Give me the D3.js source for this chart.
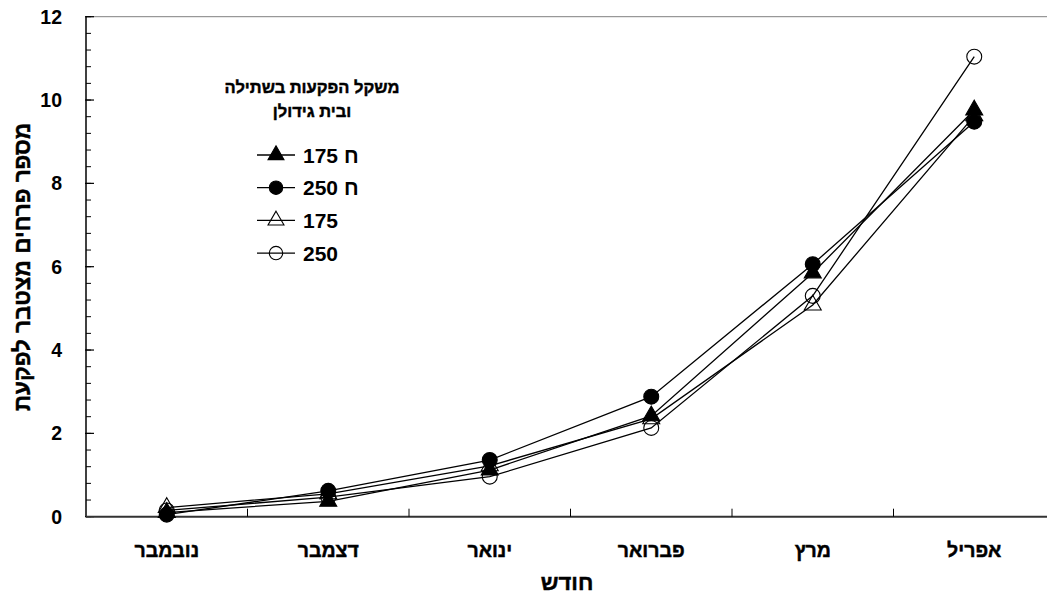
<!DOCTYPE html>
<html>
<head>
<meta charset="utf-8">
<style>
body { margin: 0; background: #fff; }
svg text { font-family: "Liberation Sans", Arial, sans-serif; font-weight: bold; fill: #000; }
svg text.heb { stroke: #000; stroke-width: 0.45px; }
.axis .domain { display: none; }
</style>
</head>
<body>
<svg width="1047" height="597"></svg>
<script src="https://d3js.org/d3.v7.min.js"></script>
<script>

var months = ["נובמבר", "דצמבר", "ינואר", "פברואר", "מרץ", "אפריל"];

var hotTri = [0.10, 0.37, 1.12, 2.42, 5.85, 9.76];   // ח 175
var hotCirc = [0.05, 0.62, 1.36, 2.88, 6.06, 9.48];  // ח 250
var openTri = [0.22, 0.55, 1.22, 2.35, 5.08, 9.62];  // 175
var openCirc = [0.15, 0.47, 0.96, 2.13, 5.30, 11.04]; // 250

var yTicks = [0, 2, 4, 6, 8, 10, 12];
var legendTitle = ["משקל הפקעות בשתילה", "ובית גידולן"];

var series = [
  {label: "ח 175", values: hotTri, shape: d3.symbolTriangle, filled: true},
  {label: "ח 250", values: hotCirc, shape: d3.symbolCircle, filled: true},
  {label: "175", values: openTri, shape: d3.symbolTriangle, filled: false},
  {label: "250", values: openCirc, shape: d3.symbolCircle, filled: false}
];

var svg = d3.select("svg"),
    plotL = 86, plotR = 1055, plotT = 16.7, plotB = 516.7;

var x = d3.scaleBand().domain(months).range([plotL, plotR]).paddingInner(0).paddingOuter(0);
var y = d3.scaleLinear().domain([0, 12]).range([plotB, plotT]);

var cx = function(i) { return x(months[i]) + x.bandwidth() / 2; };

// frame top line
svg.append("line")
    .attr("x1", plotL).attr("x2", 1047)
    .attr("y1", plotT).attr("y2", plotT)
    .attr("stroke", "#808080").attr("stroke-width", 1);

// y axis
svg.append("line")
    .attr("x1", plotL).attr("x2", plotL)
    .attr("y1", plotT).attr("y2", plotB)
    .attr("stroke", "#000").attr("stroke-width", 1.5);

var minor = d3.range(0, 12.001, 0.4);
svg.append("g").selectAll("line")
  .data(minor)
  .enter().append("line")
    .attr("x1", plotL).attr("x2", plotL + 5)
    .attr("y1", function(d) { return y(d); })
    .attr("y2", function(d) { return y(d); })
    .attr("stroke", "#000").attr("stroke-width", 1);

svg.append("g").selectAll("line")
  .data(yTicks)
  .enter().append("line")
    .attr("x1", plotL - 1).attr("x2", plotL + 8)
    .attr("y1", function(d) { return y(d); })
    .attr("y2", function(d) { return y(d); })
    .attr("stroke", "#000").attr("stroke-width", 1.2);

svg.append("g").selectAll("text")
  .data(yTicks)
  .enter().append("text")
    .attr("x", 62)
    .attr("y", function(d) { return y(d); })
    .attr("dy", "0.36em")
    .attr("text-anchor", "end")
    .style("font-size", "19.5px")
    .text(function(d) { return d; });

// x axis
svg.append("line")
    .attr("x1", plotL).attr("x2", 1047)
    .attr("y1", plotB).attr("y2", plotB)
    .attr("stroke", "#333").attr("stroke-width", 2);

svg.append("g").selectAll("line")
  .data(months.slice(1))
  .enter().append("line")
    .attr("x1", function(d) { return x(d); })
    .attr("x2", function(d) { return x(d); })
    .attr("y1", plotB).attr("y2", plotB - 8)
    .attr("stroke", "#000").attr("stroke-width", 1);

svg.append("g")
    .attr("class", "axis")
    .attr("transform", "translate(0," + plotB + ")")
    .call(d3.axisBottom(x).tickSize(0).tickPadding(0))
  .selectAll("text")
    .attr("class", "heb")
    .attr("y", 40)
    .attr("dy", 0)
    .style("font-size", "19.5px")
    .style("font-family", "\"Liberation Sans\", Arial, sans-serif")
    .attr("fill", "#000");

// axis titles
svg.append("text")
    .attr("class", "heb")
    .attr("x", 567).attr("y", 590)
    .attr("text-anchor", "middle")
    .style("font-size", "22px")
    .text("חודש");

svg.append("text")
    .attr("class", "heb")
    .attr("transform", "translate(30,267) rotate(-90)")
    .attr("text-anchor", "middle")
    .style("font-size", "22.5px")
    .text("מספר פרחים מצטבר לפקעת");

// lines
var line = d3.line()
    .x(function(d, i) { return cx(i); })
    .y(function(d) { return y(d); });

svg.append("g").selectAll("path")
  .data(series)
  .enter().append("path")
    .attr("d", function(d) { return line(d.values); })
    .attr("fill", "none")
    .attr("stroke", "#000")
    .attr("stroke-width", 1.3);

// markers
series.forEach(function(s) {
  var sym = d3.symbol().type(s.shape).size(s.shape === d3.symbolCircle ? 175 : 125);
  svg.append("g").selectAll("path")
    .data(s.values)
    .enter().append("path")
      .attr("transform", function(d, i) { return "translate(" + cx(i) + "," + y(d) + ")"; })
      .attr("d", sym)
      .attr("fill", s.filled ? "#000" : "none")
      .attr("stroke", "#000")
      .attr("stroke-width", 1.1);
});

// legend
var legend = svg.append("g");
legend.selectAll("text.title")
  .data(legendTitle)
  .enter().append("text")
    .attr("class", "title heb")
    .attr("x", 312)
    .attr("y", function(d, i) { return 93 + i * 24; })
    .attr("text-anchor", "middle")
    .style("font-size", "16.5px")
    .text(function(d) { return d; });

var rows = legend.selectAll("g.row")
  .data(series)
  .enter().append("g")
    .attr("class", "row")
    .attr("transform", function(d, i) { return "translate(0," + (155 + i * 32.7) + ")"; });

rows.append("line")
    .attr("x1", 257).attr("x2", 295)
    .attr("y1", 0).attr("y2", 0)
    .attr("stroke", "#000").attr("stroke-width", 1.3);

rows.append("path")
    .attr("transform", "translate(276,0)")
    .attr("d", function(d) {
      return d3.symbol().type(d.shape).size(d.shape === d3.symbolCircle ? 140 : 110)();
    })
    .attr("fill", function(d) { return d.filled ? "#000" : "none"; })
    .attr("stroke", "#000")
    .attr("stroke-width", 1.1);

rows.append("text")
    .attr("x", 303)
    .attr("y", 0)
    .attr("dy", "0.36em")
    .style("font-size", "21px")
    .text(function(d) { return d.label; });

</script>
</body>
</html>
